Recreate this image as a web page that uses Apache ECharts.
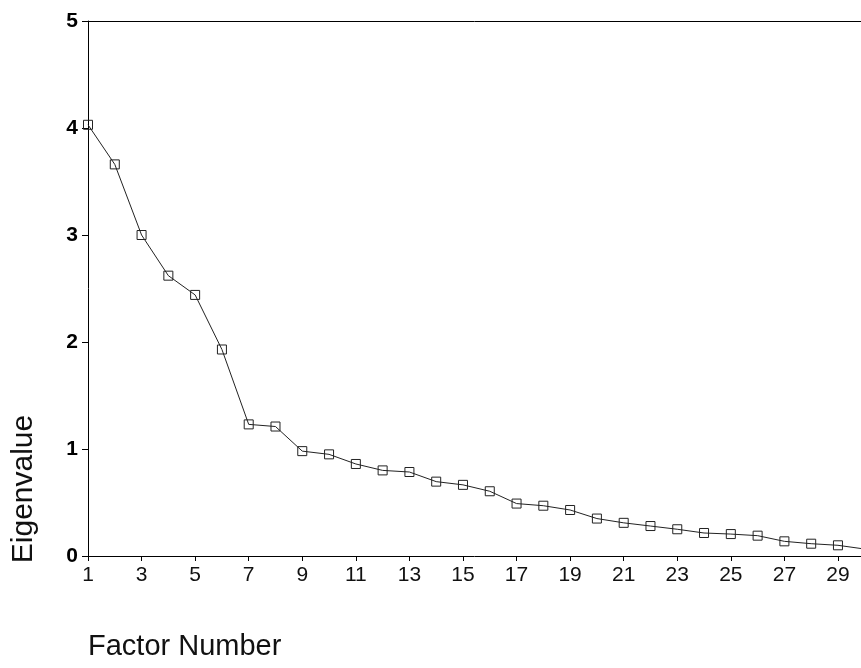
<!DOCTYPE html>
<html>
<head>
<meta charset="utf-8">
<script src="https://cdn.jsdelivr.net/npm/echarts@6/dist/echarts.min.js"></script>
<style>html,body{margin:0;padding:0;background:#fff}#c{width:861px;height:668px}</style>
</head>
<body>
<div id="c"></div>
<script>
const factors = [1,2,3,4,5,6,7,8,9,10,11,12,13,14,15,16,17,18,19,20,21,22,23,24,25,26,27,28,29,30];
const eigenvalues = [4.03,3.66,3.00,2.62,2.44,1.93,1.23,1.21,0.98,0.95,0.86,0.80,0.785,0.695,0.665,0.605,0.49,0.47,0.43,0.35,0.31,0.28,0.25,0.215,0.205,0.19,0.137,0.115,0.10,0.065];
const xTickLabels = [1,3,5,7,9,11,13,15,17,19,21,23,25,27,29];
const yTickLabels = [0,1,2,3,4,5];
const xTitle = 'Factor Number';
const yTitle = 'Eigenvalue';

const chart = echarts.init(document.getElementById('c'), null, {renderer:'canvas'});
chart.setOption({
  animation: false,
  backgroundColor: '#fff',
  grid: {left: 88, right: 0, top: 21, bottom: 112, containLabel: false},
  xAxis: [{
    type: 'value', min: 1, max: 29.86, position: 'bottom',
    axisLine: {show: true, onZero: false, lineStyle: {color: '#000', width: 1}},
    axisTick: {show: true, length: 5, customValues: xTickLabels, lineStyle: {color: '#000'}},
    axisLabel: {customValues: xTickLabels, margin: 9, fontFamily: 'Liberation Sans, Arial, sans-serif', fontSize: 21, color: '#111', showMinLabel: true, showMaxLabel: true},
    splitLine: {show: false}
  }, {
    type: 'value', min: 1, max: 29.86, position: 'top',
    axisLine: {show: true, onZero: false, lineStyle: {color: '#000', width: 1}},
    axisTick: {show: false}, axisLabel: {show: false}, splitLine: {show: false}
  }],
  yAxis: {
    type: 'value', min: 0, max: 5, interval: 1,
    axisLine: {show: true, onZero: false, lineStyle: {color: '#000', width: 1}},
    axisTick: {show: true, length: 6, lineStyle: {color: '#000'}},
    axisLabel: {margin: 10, fontFamily: 'Liberation Sans, Arial, sans-serif', fontSize: 21, fontWeight: 'bold', color: '#000',
      formatter: v => yTickLabels.includes(v) ? String(v) : ''},
    splitLine: {show: false}
  },
  graphic: [
    {type: 'text', left: 88, top: 632, style: {text: xTitle, fontFamily: 'Liberation Sans, Arial, sans-serif', fontSize: 29, fill: '#111'}},
    {type: 'text', x: 24, y: 489, rotation: Math.PI/2, style: {text: yTitle, fontFamily: 'Liberation Sans, Arial, sans-serif', fontSize: 30, fill: '#111', align: 'center', verticalAlign: 'middle'}}
  ],
  series: [{
    type: 'line',
    xAxisIndex: 0,
    data: factors.map((f, i) => [f, eigenvalues[i]]),
    clip: true,
    symbol: 'rect', symbolSize: 9,
    lineStyle: {color: '#222', width: 1},
    itemStyle: {color: 'rgba(0,0,0,0)', borderColor: '#222', borderWidth: 1}
  }]
});
</script>
</body>
</html>
